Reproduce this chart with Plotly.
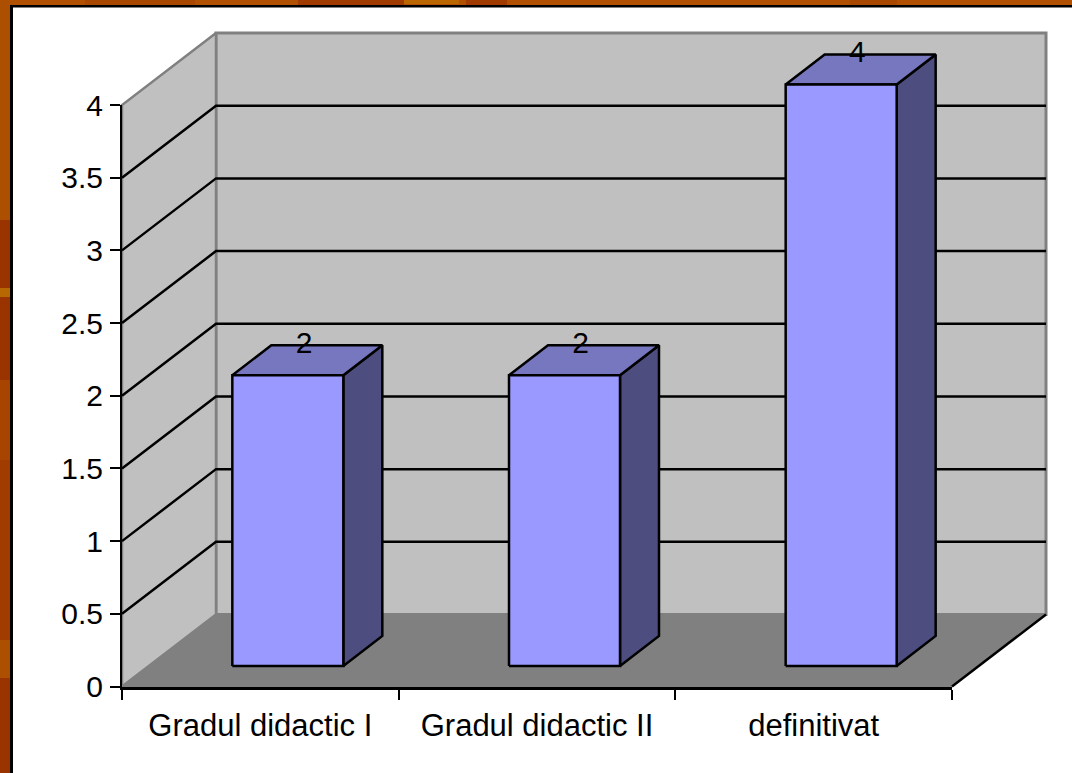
import plotly.graph_objects as go

categories = ["Gradul didactic I", "Gradul didactic II", "definitivat"]
values = [2, 2, 4]
y_ticks = [0, 0.5, 1, 1.5, 2, 2.5, 3, 3.5, 4]
y_tick_labels = ["0", "0.5", "1", "1.5", "2", "2.5", "3", "3.5", "4"]

W, H = 1072, 773
L, R, T, B = 122, 952, 105, 686.5
xu = (R - L) / 3
yu = (B - T) / 4
DX = 94 / xu          # wall depth in x units
DY = 72 / yu          # wall depth in y units
BAR_W = 111 / xu
BAR_FX = 27.5 / xu    # bar front offset
BAR_FY = 20.5 / yu
BAR_DX = 39 / xu      # bar depth
BAR_DY = 30 / yu
FONT = dict(family="Liberation Sans, Arial, sans-serif", size=30, color="#000000")
CAT_FONT = dict(family="Liberation Sans, Arial, sans-serif", size=31, color="#000000")

fig = go.Figure()


def poly(xs, ys, fill, line="#000000", width=2.5):
    fig.add_trace(go.Scatter(
        x=xs + xs[:1], y=ys + ys[:1], mode="lines", fill="toself", fillcolor=fill,
        line=dict(color=line, width=width), hoverinfo="skip", showlegend=False))


def seg(xs, ys, color="#000000", width=2.5):
    fig.add_trace(go.Scatter(
        x=xs, y=ys, mode="lines", line=dict(color=color, width=width),
        hoverinfo="skip", showlegend=False))


n = len(categories)
top = y_ticks[-1]
# walls and floor
poly([DX, n + DX, n + DX, DX], [DY, DY, top + DY, top + DY], "#C0C0C0", "#808080", 3)
poly([0, DX, DX, 0], [0, DY, top + DY, top], "#C0C0C0", "#808080", 2.5)
poly([0, n, n + DX, DX], [0, 0, DY, DY], "#808080", "#808080", 1)
seg([n, n + DX], [0, DY], "#000000", 2.5)
# gridlines on side wall and back wall
for v in y_ticks[1:-1]:
    seg([0, DX, n + DX], [v, v + DY, v + DY], "#000000", 2.5)
# bars
for i, v in enumerate(values):
    x0 = i + 0.5 + BAR_FX - BAR_W / 2
    x1 = x0 + BAR_W
    y0 = BAR_FY
    y1 = v + BAR_FY
    poly([x1, x1 + BAR_DX, x1 + BAR_DX, x1], [y0, y0 + BAR_DY, y1 + BAR_DY, y1], "#4D4D80")
    poly([x0, x1, x1 + BAR_DX, x0 + BAR_DX], [y1, y1, y1 + BAR_DY, y1 + BAR_DY], "#7777BF")
    poly([x0, x1, x1, x0], [y0, y0, y1, y1], "#9999FF")
# data labels
fig.add_trace(go.Scatter(
    x=[i + 0.5 + 0.158 for i in range(n)],
    y=[v + BAR_FY + BAR_DY for v in values],
    mode="text", text=[str(v) for v in values], textposition="middle center",
    textfont=FONT, hoverinfo="skip", showlegend=False))
# trace that carries the visible axes
fig.add_trace(go.Scatter(x=[0, n], y=[0, top], xaxis="x2", yaxis="y2", mode="markers",
                         marker=dict(opacity=0), hoverinfo="skip", showlegend=False))

# slide frame: (left, top, right, bottom, colour) in page fractions
frame = [
    (0, 0, W, 6, "#B05000"),
    (85, 0, 195, 5, "#A84800"),
    (298, 0, 404, 5, "#A03A00"),
    (404, 0, 459, 4, "#BC6600"),
    (466, 0, 507, 5, "#A03A00"),
    (850, 0, 897, 5, "#A84800"),
    (0, 0, 10, H, "#AD4F00"),
    (0, 220, 10, 288, "#993300"),
    (0, 288, 10, 297, "#B86800"),
    (0, 297, 10, 380, "#993300"),
    (0, 380, 10, 460, "#A64400"),
    (0, 460, 10, 640, "#A03C00"),
    (0, 678, 10, H, "#993300"),
    (10, 5, 13, H, "#000000"),
    (10, 5, W, 7.5, "#000000"),
]
shapes = [dict(type="rect", xref="paper", yref="paper", x0=a / W, x1=c / W, y0=1 - b / H, y1=1 - d / H,
               fillcolor=col, line_width=0, layer="below") for a, b, c, d, col in frame]

fig.update_layout(
    template="none",
    width=W, height=H, autosize=False,
    margin=dict(l=0, r=0, t=0, b=0, pad=0, autoexpand=False),
    paper_bgcolor="#FFFFFF", plot_bgcolor="rgba(0,0,0,0)",
    showlegend=False, shapes=shapes, font=FONT,
    # full-page scale for the 3D faces, same units as the visible axes
    xaxis=dict(range=[(0 - L) / xu, (W - L) / xu], domain=[0, 1], visible=False, automargin=False),
    yaxis=dict(range=[(B - H) / yu, B / yu], domain=[0, 1], visible=False, automargin=False),
    xaxis2=dict(
        anchor="y2", domain=[L / W, R / W], automargin=False,
        range=[0, n], tickmode="array", tickvals=[i + 0.5 for i in range(n)], ticktext=categories,
        ticks="", showgrid=False, zeroline=False, showline=True, linecolor="#000000", linewidth=3,
        tickfont=CAT_FONT, ticklabelstandoff=9,
        minor=dict(tickmode="array", tickvals=list(range(n + 1)), ticks="outside", ticklen=10,
                   tickwidth=2, tickcolor="#000000", showgrid=False),
    ),
    yaxis2=dict(
        anchor="x2", domain=[1 - B / H, 1 - T / H], automargin=False,
        range=[0, top], tickmode="array", tickvals=y_ticks, ticktext=y_tick_labels,
        ticks="outside", ticklen=10, tickwidth=2, tickcolor="#000000", showgrid=False, zeroline=False,
        showline=True, linecolor="#000000", linewidth=2, tickfont=FONT, ticklabelstandoff=1,
    ),
)

fig.write_html("out.html", config=dict(displayModeBar=False),
               post_script="document.body.style.margin='0';document.body.style.overflow='hidden';")
